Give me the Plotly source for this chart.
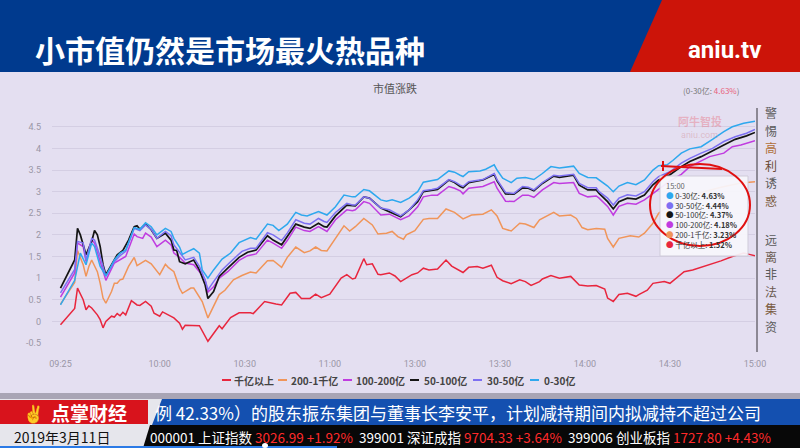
import plotly.graph_objects as go

# ------------------------------------------------------------------ data
tick_labels = ["09:25", "10:00", "10:30", "11:00", "13:00", "13:30", "14:00", "14:30", "15:00"]
y_tick_vals = [-0.5, 0, 0.5, 1, 1.5, 2, 2.5, 3, 3.5, 4, 4.5]
series_names = ["千亿以上", "200-1千亿", "100-200亿", "50-100亿", "30-50亿", "0-30亿"]
series_colors = ["#e8263e", "#f0955a", "#c03ce0", "#151515", "#7d70f2", "#2ea8ee"]

t_1000 = ["09:25","09:30","09:31","09:33","09:34","09:35","09:36","09:38","09:39","09:40","09:41","09:43","09:44","09:45","09:46","09:47","09:48","09:50","09:52","09:53","09:55","09:57","09:58","10:00","10:01","10:03","10:05","10:07","10:08","10:09","10:11","10:14","10:17","10:21","10:22","10:25","10:28","10:32","10:33","10:37","10:41","10:43","10:46","10:48","10:50","10:53","10:55","10:57","11:00","11:04","11:06","11:08","11:09","11:12","11:13","11:15","11:17","11:18","11:21","11:23","11:25","11:28","11:29","13:01","13:03","13:05","13:08","13:10","13:11","13:13","13:17","13:19","13:22","13:24","13:27","13:29","13:31","13:34","13:37","13:39","13:41","13:44","13:45","13:48","13:51","13:55","13:58","14:01","14:04","14:07","14:08","14:10","14:12","14:15","14:18","14:19","14:22","14:24","14:28","14:30","14:35","14:38","14:41","14:44","14:48","14:52","14:56","14:58","15:00"]
v_1000 = [-0.08,0.30,0.77,0.50,0.27,0.36,0.31,0.15,0.04,-0.15,0.00,0.12,0.10,0.18,0.13,0.21,0.15,0.48,0.38,0.37,0.46,0.35,0.19,0.12,0.22,0.15,0.08,-0.04,-0.18,-0.09,-0.09,-0.10,-0.46,-0.10,-0.17,0.09,0.20,0.20,0.18,0.46,0.40,0.38,0.65,0.67,0.53,0.53,0.63,0.55,0.63,1.00,1.08,0.98,1.00,1.45,1.31,1.33,1.09,1.08,1.12,1.05,0.92,1.04,1.08,1.12,1.23,1.19,1.21,1.35,1.42,1.28,1.13,1.25,1.27,1.23,1.30,1.02,0.94,0.87,0.96,0.92,0.83,0.92,0.98,1.06,1.00,1.04,0.84,0.82,0.83,0.75,0.54,0.46,0.62,0.65,0.58,0.62,0.72,0.88,0.92,0.88,1.15,1.19,1.25,1.31,1.40,1.50,1.58,1.55,1.52]

t_200 = ["09:25","09:30","09:31","09:33","09:34","09:35","09:36","09:38","09:39","09:40","09:41","09:43","09:44","09:45","09:46","09:47","09:49","09:51","09:52","09:55","09:57","10:00","10:02","10:03","10:05","10:07","10:08","10:11","10:12","10:15","10:17","10:19","10:21","10:23","10:26","10:29","10:32","10:34","10:38","10:40","10:43","10:45","10:48","10:51","10:53","10:55","10:57","10:59","11:02","11:05","11:07","11:09","11:12","11:15","11:17","11:20","11:22","11:24","11:26","11:27","11:30","13:03","13:05","13:08","13:11","13:14","13:17","13:20","13:24","13:27","13:29","13:31","13:34","13:37","13:39","13:42","13:44","13:49","13:51","13:55","13:57","13:59","14:01","14:04","14:07","14:08","14:10","14:12","14:16","14:19","14:21","14:24","14:26","14:29","14:33","14:41","14:48","14:55","15:00"]
v_200 = [0.40,0.90,1.64,1.31,1.04,1.27,1.42,1.15,0.88,0.54,0.42,0.69,0.88,0.88,0.96,0.98,1.27,1.48,1.29,1.41,1.33,1.08,1.32,1.25,1.15,0.77,0.65,0.77,0.77,0.46,0.08,0.35,0.62,0.72,0.96,1.06,1.14,1.12,1.40,1.41,1.25,1.48,1.72,1.59,1.63,1.72,1.64,1.63,1.92,2.21,2.09,2.19,2.38,2.23,2.02,2.04,2.08,1.96,1.90,2.00,2.10,2.36,2.38,2.38,2.60,2.52,2.37,2.46,2.48,2.58,2.44,2.15,2.09,2.27,2.25,2.17,2.35,2.52,2.44,2.46,2.38,2.17,2.12,2.15,2.13,1.92,1.72,1.92,1.98,1.95,2.04,2.27,2.50,2.65,2.80,2.98,3.10,3.20,3.23]

t_100 = ["09:25","09:30","09:31","09:33","09:34","09:36","09:37","09:39","09:41","09:44","09:46","09:48","09:51","09:52","09:54","09:55","09:57","09:59","10:02","10:04","10:05","10:07","10:09","10:12","10:14","10:16","10:17","10:19","10:21","10:24","10:28","10:31","10:34","10:38","10:40","10:43","10:45","10:48","10:51","10:53","10:56","10:58","10:59","11:02","11:06","11:08","11:09","11:12","11:14","11:18","11:21","11:25","11:28","13:01","13:03","13:06","13:08","13:12","13:14","13:16","13:17","13:19","13:24","13:28","13:29","13:32","13:35","13:38","13:40","13:42","13:45","13:49","13:51","13:56","13:58","14:01","14:04","14:05","14:08","14:10","14:12","14:15","14:18","14:21","14:24","14:27","14:30","14:34","14:37","14:44","14:49","14:52","14:55","15:00"]
v_100 = [0.56,1.12,1.81,1.73,1.38,1.88,1.81,1.35,0.95,1.35,1.42,1.50,2.02,1.96,1.92,2.04,1.95,1.73,1.88,1.77,1.58,1.48,1.35,1.31,1.15,0.96,0.68,0.80,1.00,1.15,1.41,1.52,1.56,1.88,1.81,1.69,1.87,2.18,2.10,2.08,2.19,2.12,2.08,2.35,2.58,2.56,2.58,2.77,2.73,2.46,2.48,2.35,2.44,2.65,2.88,2.92,2.92,3.12,3.08,3.02,2.95,3.08,3.12,3.23,3.08,2.78,2.77,2.92,2.92,2.87,3.04,3.21,3.19,3.21,2.96,2.88,2.90,2.85,2.66,2.46,2.66,2.73,2.71,2.81,2.96,3.10,3.25,3.40,3.58,3.81,3.89,4.04,4.08,4.18]

t_50 = ["09:25","09:30","09:31","09:32","09:34","09:36","09:37","09:38","09:39","09:40","09:41","09:44","09:45","09:47","09:49","09:51","09:52","09:53","09:55","09:57","09:59","10:02","10:04","10:05","10:06","10:07","10:09","10:12","10:14","10:16","10:17","10:19","10:21","10:24","10:28","10:31","10:34","10:38","10:40","10:43","10:45","10:48","10:51","10:53","10:56","10:58","10:59","11:02","11:06","11:08","11:09","11:12","11:14","11:18","11:21","11:25","11:28","13:01","13:03","13:06","13:08","13:12","13:14","13:16","13:17","13:19","13:24","13:28","13:29","13:32","13:35","13:38","13:40","13:42","13:45","13:49","13:51","13:56","13:58","14:01","14:04","14:05","14:08","14:10","14:12","14:15","14:18","14:21","14:24","14:26","14:30","14:34","14:37","14:41","14:45","14:49","14:53","14:57","15:00"]
v_50 = [0.77,1.42,2.15,2.00,1.54,1.85,2.10,2.00,1.73,1.31,1.08,1.42,1.54,1.64,1.88,2.19,2.21,2.13,2.25,2.12,1.92,2.04,1.88,1.65,1.64,1.38,1.33,1.42,1.19,0.85,0.53,0.69,1.04,1.23,1.48,1.60,1.65,1.98,1.88,1.77,1.96,2.25,2.18,2.15,2.27,2.19,2.18,2.44,2.69,2.67,2.67,2.88,2.85,2.62,2.54,2.42,2.58,2.77,3.00,3.04,3.05,3.27,3.21,3.12,3.09,3.21,3.27,3.40,3.25,2.95,2.94,3.09,3.08,3.02,3.19,3.36,3.33,3.38,3.15,3.04,3.04,2.96,2.77,2.60,2.77,2.85,2.83,2.92,3.16,3.27,3.39,3.58,3.70,3.81,3.95,4.08,4.21,4.29,4.37]

t_30 = ["09:25","09:30","09:31","09:33","09:34","09:36","09:37","09:39","09:41","09:44","09:46","09:48","09:51","09:52","09:53","09:55","09:57","09:59","10:02","10:04","10:05","10:07","10:09","10:12","10:14","10:16","10:17","10:19","10:22","10:25","10:29","10:32","10:34","10:38","10:40","10:43","10:45","10:48","10:51","10:53","10:56","10:58","10:59","11:02","11:06","11:08","11:09","11:12","11:14","11:18","11:21","11:25","11:28","13:01","13:03","13:06","13:08","13:12","13:14","13:16","13:17","13:19","13:24","13:28","13:29","13:32","13:35","13:38","13:40","13:42","13:45","13:49","13:51","13:56","13:58","14:01","14:04","14:05","14:08","14:10","14:12","14:15","14:18","14:21","14:24","14:26","14:30","14:34","14:37","14:41","14:45","14:49","14:53","14:57","15:00"]
v_30 = [0.66,1.20,1.85,1.81,1.42,1.92,1.88,1.50,1.04,1.38,1.52,1.62,2.15,2.13,2.10,2.23,2.13,1.92,2.08,1.98,1.77,1.60,1.42,1.48,1.27,0.96,0.73,0.92,1.19,1.38,1.62,1.69,1.69,2.05,2.00,1.87,2.04,2.35,2.27,2.25,2.38,2.31,2.29,2.52,2.73,2.69,2.69,2.88,2.85,2.62,2.58,2.44,2.58,2.81,3.02,3.05,3.08,3.28,3.23,3.15,3.12,3.23,3.28,3.42,3.28,2.98,2.96,3.12,3.10,3.04,3.21,3.38,3.36,3.40,3.19,3.09,3.09,3.00,2.85,2.69,2.85,2.93,2.90,3.00,3.23,3.35,3.46,3.66,3.77,3.89,4.00,4.16,4.27,4.35,4.44]

t_0 = ["09:25","09:30","09:32","09:34","09:36","09:37","09:39","09:41","09:44","09:46","09:48","09:51","09:52","09:53","09:55","09:57","09:59","10:02","10:04","10:05","10:07","10:08","10:10","10:12","10:14","10:15","10:17","10:19","10:22","10:25","10:28","10:31","10:32","10:34","10:38","10:40","10:42","10:45","10:48","10:50","10:52","10:56","10:58","10:59","11:02","11:05","11:08","11:09","11:12","11:14","11:18","11:20","11:22","11:25","11:28","13:01","13:03","13:06","13:08","13:12","13:14","13:16","13:17","13:19","13:23","13:25","13:28","13:29","13:31","13:34","13:36","13:39","13:42","13:45","13:48","13:51","13:56","13:58","14:01","14:04","14:05","14:08","14:10","14:12","14:15","14:18","14:21","14:24","14:26","14:29","14:31","14:34","14:37","14:41","14:45","14:49","14:52","14:56","15:00"]
v_0 = [0.38,0.95,1.58,1.31,1.81,1.73,1.27,1.05,1.42,1.58,1.65,2.17,2.15,2.13,2.28,2.19,2.00,2.15,2.08,1.92,1.72,1.55,1.62,1.68,1.58,1.19,1.00,1.19,1.44,1.58,1.82,1.90,1.94,1.90,2.25,2.22,2.10,2.25,2.52,2.46,2.44,2.54,2.48,2.46,2.65,2.92,2.88,2.88,3.05,3.02,2.81,2.78,2.81,2.75,2.85,3.00,3.22,3.25,3.28,3.48,3.45,3.38,3.35,3.46,3.48,3.52,3.62,3.50,3.31,3.21,3.31,3.33,3.28,3.42,3.58,3.55,3.59,3.42,3.33,3.32,3.27,3.13,3.00,3.13,3.21,3.16,3.27,3.50,3.60,3.62,3.72,3.89,3.99,4.04,4.21,4.39,4.50,4.58,4.63]

series_times = [t_1000, t_200, t_100, t_50, t_30, t_0]
series_vals = [v_1000, v_200, v_100, v_50, v_30, v_0]

chart_title = "市值涨跌"
page_title = "小市值仍然是市场最火热品种"
brand = "aniu.tv"
tooltip_time = "15:00"
side_text_1 = "警惕高利诱惑"
side_text_2 = "远离非法集资"
news_text = "例 42.33%）的股东振东集团与董事长李安平，计划减持期间内拟减持不超过公司"
date_text = "2019年3月11日"
index_codes = ["000001", "399001", "399006"]
index_names = ["上证指数", "深证成指", "创业板指"]
index_levels = ["3026.99", "9704.33", "1727.80"]
index_changes = ["+1.92%", "+3.64%", "+4.43%"]


def minute_index(label):
    h, m = map(int, label.split(":"))
    mins = h * 60 + m
    if mins <= 11 * 60 + 30:
        return mins - (9 * 60 + 25)
    return 125 + mins - 13 * 60


# ------------------------------------------------------------------ layout helpers
W, H = 800, 448
PL, PR, PT, PB = 52, 755, 116, 343


def fx(x):
    return (x - PL) / (PR - PL)


def fy(y):
    return (PB - y) / (PB - PT)


CJK = "Noto Sans CJK SC, Noto Sans, sans-serif"
BG = "#e4dff1"

fig = go.Figure()
for name, color, ts, vs in zip(series_names, series_colors, series_times, series_vals):
    fig.add_trace(go.Scatter(
        x=[minute_index(t) for t in ts], y=vs, name=name, mode="lines",
        line=dict(color=color, width=1.7 if color == "#151515" else 1.5),
        hoverinfo="skip", showlegend=False))

shapes = []
annotations = []


def rect(x0, y0, x1, y1, color, layer="below", line=None):
    shapes.append(dict(type="rect", xref="paper", yref="paper", x0=fx(x0), x1=fx(x1),
                       y0=fy(y1), y1=fy(y0), fillcolor=color, layer=layer,
                       line=line or dict(width=0)))


def poly(points, color, layer="below"):
    d = "M " + " L ".join(f"{fx(x)},{fy(y)}" for x, y in points) + " Z"
    shapes.append(dict(type="path", xref="paper", yref="paper", path=d,
                       fillcolor=color, line=dict(width=0), layer=layer))


def text(t, x, y, size, color, xa="center", ya="middle", family=CJK, bold=False, align="center"):
    if bold:
        t = f"<b>{t}</b>"
    annotations.append(dict(text=t, x=fx(x), y=fy(y), xref="paper", yref="paper",
                            xanchor=xa, yanchor=ya, showarrow=False, borderpad=0, align=align,
                            font=dict(size=size, color=color, family=family)))


# header
rect(0, 0, 800, 72, "#003a8e")
poly([(662, 0), (800, 0), (800, 72), (630, 72)], "#cc1409")
text(page_title, 34, 49, 30, "#ffffff", xa="left", bold=True)
text(brand, 724, 50, 24, "#ffffff", family="Roboto, Arial, sans-serif", bold=True)

# chart title + top-right readout
text(chart_title, 395, 88, 11, "#555555")
last_label = series_names[-1]
last_val = series_vals[-1][-1]
text(f"({last_label}: <span style='color:#e8607a'>{last_val:.2f}%</span>)", 711, 90, 8, "#777777")

# watermark
text("阿牛智投", 700, 121, 11, "rgba(232,120,135,0.45)", bold=True)
text("aniu.com", 699, 135, 9, "rgba(210,140,150,0.45)", family="Roboto, sans-serif")

# custom legend
legend_px = [(222, 233), (278, 290), (343, 355), (410, 423), (473, 486), (530, 543)]
for (lx, tx), name, color in zip(legend_px, series_names, series_colors):
    shapes.append(dict(type="line", xref="paper", yref="paper", x0=fx(lx), x1=fx(lx + 9),
                       y0=fy(380), y1=fy(380), line=dict(color=color, width=2)))
    text(name, tx, 380, 10, "#444444", xa="left", bold=True)

# tooltip (one text block)
rect(660, 176, 748, 256, "rgba(248,246,252,0.93)", layer="above",
     line=dict(color="#cfcbd9", width=1))
tip_lines = [f"<span style='color:#666666'>{tooltip_time}</span>"]
for idx in range(5, -1, -1):
    tip_lines.append(
        f"<span style='color:{series_colors[idx]}'>●</span> {series_names[idx]}: "
        f"<b>{series_vals[idx][-1]:.2f}%</b>")
text("<br>".join(tip_lines), 665, 215.4, 7.5, "#333333", xa="left", align="left")

# red hand-drawn circle
shapes.append(dict(type="circle", xref="paper", yref="paper", x0=fx(650), x1=fx(750),
                   y0=fy(246), y1=fy(164), line=dict(color="#e01010", width=2), layer="above"))
shapes.append(dict(type="path", xref="paper", yref="paper",
                   path=f"M {fx(661)},{fy(166)} L {fx(722)},{fy(169)} M {fx(663)},{fy(161)} L {fx(663)},{fy(171)}",
                   line=dict(color="#e01010", width=2), layer="above"))

# right-side vertical slogan
shapes.append(dict(type="line", xref="paper", yref="paper", x0=fx(757), x1=fx(757),
                   y0=fy(352), y1=fy(108), line=dict(color="#8c8894", width=2), layer="above"))
c1 = ["#5a5a5a", "#5a5a5a", "#b0703a", "#6a4a35", "#5a5a5a", "#7a5a40"]
c2 = ["#5a5a5a", "#6a5a50", "#5a5a5a", "#6a5a50", "#7a5a40", "#5a5a5a"]
for i, ch in enumerate(side_text_1):
    text(ch, 771, 113 + i * 17.4, 12, c1[i])
for i, ch in enumerate(side_text_2):
    text(ch, 771, 239 + i * 17.4, 12, c2[i])

# bottom bars
rect(0, 393, 800, 399, "#a9a5b5")
rect(0, 399, 800, 448, "#e6e6ec")
rect(0, 400, 148, 424, "#d8131c")
poly([(162, 399), (800, 399), (800, 425), (152, 425)], "#1450b0")
text("点掌财经", 89, 412, 19, "#ffffff", bold=True)
text("✌", 33, 412, 17, "#ffffff")
text(news_text, 154, 412, 17, "#ffffff", xa="left")
poly([(150, 425), (800, 425), (800, 448), (143, 448)], "#080808")
text(date_text, 62, 436.5, 14, "#111111")
ticker = "  ".join(
    f"{c} {n} <span style='color:#ff2a2a'>{lv} {ch}</span>"
    for c, n, lv, ch in zip(index_codes, index_names, index_levels, index_changes))
text(ticker, 149, 436.5, 13.5, "#ffffff", xa="left")
rect(0, 446, 337, 448, "#2b7ae6", layer="above")
shapes.append(dict(type="circle", xref="paper", yref="paper", x0=fx(262), x1=fx(268),
                   y0=fy(448), y1=fy(443), fillcolor="#ffffff", line=dict(width=0), layer="above"))

fig.update_layout(
    width=W, height=H,
    margin=dict(l=PL, r=W - PR, t=PT, b=H - PB, pad=0),
    paper_bgcolor=BG, plot_bgcolor=BG,
    font=dict(family=CJK),
    showlegend=False,
    shapes=shapes, annotations=annotations,
    xaxis=dict(range=[-3, 245], tickvals=[minute_index(t) for t in tick_labels],
               ticktext=tick_labels, showgrid=False, zeroline=False, showline=False,
               ticks="", ticklabelstandoff=14,
               tickfont=dict(size=9, color="#9a96a6", family="Roboto, sans-serif")),
    yaxis=dict(range=[-0.5, 4.75], tickvals=y_tick_vals,
               ticktext=[f"{v:g}" for v in y_tick_vals], showgrid=True,
               gridcolor="#d4cee3", gridwidth=1, zeroline=False, showline=False,
               ticks="", ticklabelstandoff=10,
               tickfont=dict(size=9, color="#9a96a6", family="Roboto, sans-serif")),
)

fig.write_html("out.html", config={"displayModeBar": False},
               post_script="document.body.style.margin='0';document.body.style.overflow='hidden';")
